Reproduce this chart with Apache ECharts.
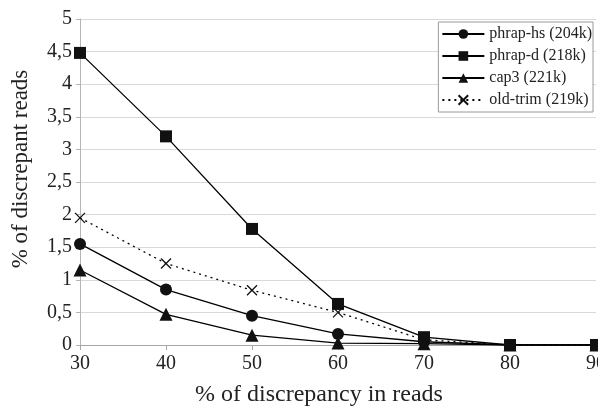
<!DOCTYPE html>
<html>
<head>
<meta charset="UTF-8">
<title>discrepant reads</title>
<script type="text/javascript" src="https://cdn.jsdelivr.net/npm/echarts@6/dist/echarts.min.js"></script>
<style>
    *{margin:0;padding:0}
    html,body{width:100%;height:100%;background:#fff}
    #main{width:598px;height:408px}
</style>
</head>
<body>
<div id="main"></div>
<script type="text/javascript">
    // % of discrepancy in reads
    var xValues = [30, 40, 50, 60, 70, 80, 90];
    var phrapHs = [1.55, 0.85, 0.45, 0.17, 0.05, 0, 0];
    var phrapD  = [4.48, 3.2, 1.78, 0.63, 0.12, 0, 0];
    var cap3    = [1.15, 0.47, 0.15, 0.03, 0.02, 0, 0];
    var oldTrim = [1.95, 1.25, 0.84, 0.5, 0.08, 0, 0];

    var names = ['phrap-hs (204k)', 'phrap-d (218k)', 'cap3 (221k)', 'old-trim (219k)'];

    function pairs(arr) {
        return arr.map(function (v, i) { return [xValues[i], v]; });
    }

    var font = '"Liberation Serif", "Times New Roman", serif';

    function mkSeries(name, data, symbol, size) {
        return {
            name: name,
            type: 'line',
            data: pairs(data),
            symbol: symbol,
            symbolSize: size,
            lineStyle: {color: '#000', width: 1.3},
            itemStyle: {color: '#111'},
            emphasis: {disabled: true}
        };
    }

    // cross marker for old-trim
    var crossPath = 'path://M0,0 L10,10 M10,0 L0,10';

    var option = {
        animation: false,
        backgroundColor: '#fff',
        grid: {left: 80, right: 2, top: 19, bottom: 63, outerBoundsMode: 'none', containLabel: false},
        legend: {
            orient: 'vertical',
            right: 5,
            top: 22,
            padding: [3, 1, 3, 3],
            itemGap: 4,
            itemWidth: 42,
            itemHeight: 12,
            borderColor: '#9a9a9a',
            borderWidth: 1,
            backgroundColor: '#fff',
            textStyle: {fontFamily: font, fontSize: 16, lineHeight: 18, color: '#222'},
            data: names
        },
        xAxis: {
            type: 'value',
            min: 30, max: 90, interval: 10,
            name: '% of discrepancy in reads',
            nameLocation: 'middle',
            nameGap: 38,
            nameTextStyle: {fontFamily: font, fontSize: 24, color: '#222', padding: [0, 38, 0, 0]},
            axisLine: {lineStyle: {color: '#a6a6a6'}},
            axisTick: {show: true, length: 5, lineStyle: {color: '#a6a6a6'}},
            axisLabel: {fontFamily: font, fontSize: 20, color: '#222', margin: 9},
            splitLine: {show: false}
        },
        yAxis: {
            type: 'value',
            min: 0, max: 5, interval: 0.5,
            name: '% of discrepant reads',
            nameLocation: 'middle',
            nameGap: 48,
            nameTextStyle: {fontFamily: font, fontSize: 23, color: '#222', padding: [0, 0, 0, 26]},
            axisLine: {show: true, lineStyle: {color: '#b5b5b5'}},
            axisTick: {show: true, length: 4, lineStyle: {color: '#b5b5b5'}},
            axisLabel: {
                fontFamily: font, fontSize: 20, color: '#222', margin: 8,
                formatter: function (v) { return String(v).replace('.', ','); }
            },
            splitLine: {lineStyle: {color: '#d9d9d9', width: 1}}
        },
        series: [
            mkSeries(names[0], phrapHs, 'circle', 12),
            mkSeries(names[1], phrapD, 'rect', 12),
            mkSeries(names[2], cap3, 'triangle', 13),
            {
                name: names[3],
                type: 'line',
                data: pairs(oldTrim),
                symbol: crossPath,
                symbolSize: 10,
                lineStyle: {color: '#000', width: 1.3, type: [2, 4]},
                itemStyle: {color: 'none', borderColor: '#111', borderWidth: 1.3},
                emphasis: {disabled: true}
            }
        ]
    };

    var myChart = echarts.init(document.getElementById('main'));
    myChart.setOption(option);
</script>
</body>
</html>
